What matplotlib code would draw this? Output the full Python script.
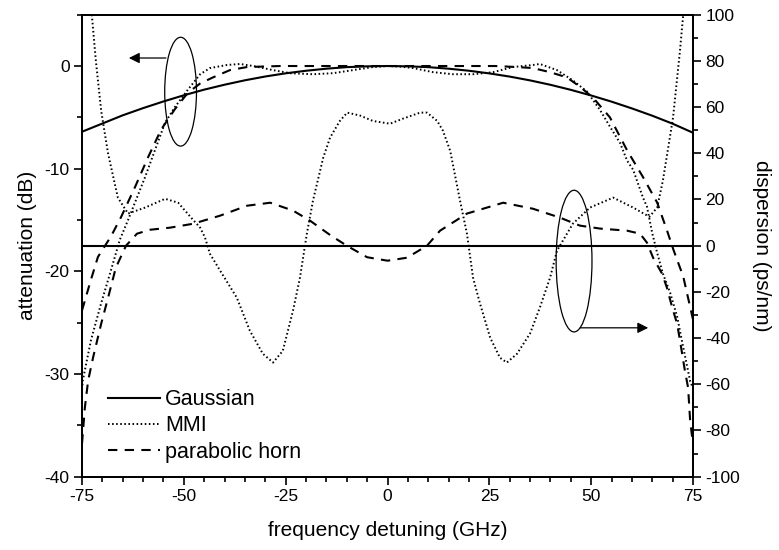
import numpy as np
import matplotlib
matplotlib.use("Agg")
import matplotlib.pyplot as plt
from matplotlib.patches import Ellipse
from matplotlib.ticker import MultipleLocator

plt.rcParams['font.family'] = ['Liberation Sans', 'DejaVu Sans']
plt.rcParams['axes.unicode_minus'] = False

# --- attenuation (dB), left axis ---
gauss_f = [-75, -70, -65, -60, -55, -50, -45, -40, -35, -30, -25, -20, -15, -10, -5,
           0, 5, 10, 15, 20, 25, 30, 35, 40, 45, 50, 55, 60, 65, 70, 75]
gauss_att = [-6.4, -5.6, -4.8, -4.1, -3.45, -2.85, -2.3, -1.82, -1.39, -1.02, -0.71, -0.46,
             -0.26, -0.11, -0.03, 0.0, -0.03, -0.11, -0.26, -0.46, -0.72, -1.03, -1.4,
             -1.83, -2.32, -2.87, -3.47, -4.13, -4.84, -5.62, -6.5]

mmi_att_f = [-75, -74.8, -72.8, -70.3, -67.9, -65.7, -63.7, -62, -59.5, -57.1, -54.6,
             -52.2, -49, -46, -43.6, -39.4, -36.2, -33, -28.1, -23.9, -18.3, -13.4, -8.5,
             -3.6, 0, 3, 6.3, 11.2, 16.1, 21, 25.9, 30.8, 35.7, 37.4, 41.6, 45.5, 49,
             52.2, 54.6, 57.1, 58.8, 60.3, 62.7, 63.7, 65, 66.2, 67.6, 69.4, 71.1, 72.6,
             74.3, 75]
mmi_att = [-31.5, -30.6, -26.7, -23.1, -19.9, -16.9, -15.0, -13.3, -10.8, -8.2, -5.5,
           -4.0, -2.3, -0.8, -0.2, 0.1, 0.2, 0.0, -0.4, -0.7, -0.8, -0.7, -0.4,
           -0.1, 0.0, -0.05, -0.2, -0.6, -0.8, -0.8, -0.6, -0.1, 0.1, 0.2, -0.4, -1.4, -2.5,
           -4.3, -5.9, -7.5, -9.2, -10.1, -12.8, -13.7, -16.3, -18.2, -20.2, -22.1, -24.4, -27.4,
           -30.7, -31.4]

horn_att_f = [-75, -72.8, -71.1, -67.9, -65.4, -62, -58.8, -55.6, -52.2, -49, -46, -42.8,
              -38.7, -34.5, -26.4, 0, 26.4, 31.8, 35.7, 39.9, 44, 47.2, 50.5, 54.6, 58.8,
              62.7, 66.2, 68.6, 70.2, 72.6, 75]
horn_att = [-23.8, -20.8, -18.6, -16.6, -14.7, -11.8, -8.9, -6.2, -4.2, -2.6, -1.7, -1.1,
            -0.4, -0.1, 0.0, 0.0, 0.0, -0.1, -0.2, -0.6, -1.1, -2.0, -3.1, -5.0, -8.2,
            -10.8, -13.3, -16.0, -17.9, -20.5, -24.7]

# --- dispersion (ps/nm), right axis ---
gauss_disp_f = [-75, 75]
gauss_disp = [0, 0]

mmi_disp_f = [-72.6, -71.6, -70.3, -68.6, -66.2, -63.7, -59.5, -54.6, -51.4, -48.2, -46,
              -44.8, -43.6, -41.1, -37, -33.8, -30.6, -28.1, -25.7, -23.2, -21.5, -19.8,
              -18.3, -15.8, -14.1, -11.7, -9.9, -6.7, -3.6, 0.6, 3.8, 8, 9.7, 12.2, 13.6,
              15.4, 17.8, 19.5, 21, 22.7, 25.2, 27.6, 29.3, 31.8, 35, 37.4, 39.9, 41.6,
              45.5, 49.7, 55.4, 60.3, 64.3, 66.2, 67.6, 70.1, 71.8, 72.6]
mmi_disp = [100, 80, 58.4, 39.8, 20.8, 13.9, 16.5, 20.3, 18.6, 12.1, 7.8,
            3.5, -3.5, -10.8, -22.5, -36.8, -46.8, -50.6, -45.5, -28.1, -13.9, 5.2,
            19.5, 38, 46.8, 54, 57.6, 56.3, 54, 52.8, 55, 57.6, 57.6, 54, 49.8,
            41, 19.5, 5.2, -13.9, -25, -39.8, -48.5, -50.6, -46.8, -38, -26.8, -13.9, -2.2,
            9.5, 16.5, 20.8, 16.5, 12.5, 16.5, 28.1, 55.4, 84.4, 100]

horn_disp_f = [-75, -74.3, -73.5, -72.3, -70.3, -68.6, -66.7, -64.2, -61.5, -58.3, -53.4,
               -47.7, -41.1, -34.5, -28.8, -23.2, -19, -14, -10, -5, 0, 4.8, 9.7, 12.9,
               19.5, 28.4, 35.7, 42.4, 47.2, 52.2, 58.8, 62, 63.7, 65.2, 67.4, 68.6, 69.9,
               71.1, 71.8, 73, 73.8, 74.3, 74.8]
horn_disp = [-85.7, -70, -58.4, -48.5, -33.8, -22.5, -9.5, 0, 5.2, 6.9, 7.8,
             9.5, 13, 17.3, 18.6, 15.2, 10.8, 4.5, 0, -5, -6.5, -5.2, 0, 6.5,
             13.9, 18.6, 16, 12.1, 8.7, 7.4, 6.5, 5.2, 1.3, -5.2, -12.1, -18.2, -26.8,
             -33.8, -41, -54, -61.5, -75.8, -83]

solid = dict(color='black', lw=1.5, linestyle='-')
dotted = dict(color='black', lw=1.4, linestyle=(0, (0.8, 1.3)))
dashed = dict(color='black', lw=1.5, linestyle=(0, (4.5, 3.5)))

fig = plt.figure(figsize=(7.79, 5.50), dpi=100)
ax = fig.add_axes([0.1053, 0.1333, 0.7843, 0.84])
ax2 = ax.twinx()

ax.plot(gauss_f, gauss_att, **solid, label='Gaussian')
ax.plot(mmi_att_f, mmi_att, **dotted, label='MMI')
ax.plot(horn_att_f, horn_att, **dashed, label='parabolic horn')

ax2.plot(gauss_disp_f, gauss_disp, **solid)
ax2.plot(mmi_disp_f, mmi_disp, **dotted)
ax2.plot(horn_disp_f, horn_disp, **dashed)

ax.set_xlim(-75, 75)
ax.set_ylim(-40, 5)
ax2.set_ylim(-100, 100)

ax.xaxis.set_major_locator(MultipleLocator(25))
ax.xaxis.set_minor_locator(MultipleLocator(5))
ax.yaxis.set_major_locator(MultipleLocator(10))
ax.yaxis.set_minor_locator(MultipleLocator(5))
ax2.yaxis.set_major_locator(MultipleLocator(20))
ax2.yaxis.set_minor_locator(MultipleLocator(10))

for a in (ax, ax2):
    a.tick_params(which='major', direction='out', length=6, width=1.2, labelsize=12.5, pad=3)
    a.tick_params(which='minor', direction='out', length=3.6, width=1.2)
    for s in a.spines.values():
        s.set_linewidth(1.3)
ax.tick_params(top=False, which='both')

ax.set_xlabel('frequency detuning (GHz)', fontsize=15, labelpad=12)
ax.set_ylabel('attenuation (dB)', fontsize=15, labelpad=5)
ax2.set_ylabel('dispersion (ps/nm)', fontsize=15, rotation=270, labelpad=22)

# ellipses grouping the curve families, with arrows pointing to their axis
ax.add_patch(Ellipse((-50.8, -2.5), 7.8, 10.6, fill=False, lw=0.9, color='black'))
ax.annotate('', xy=(-63.5, 0.78), xytext=(-54.4, 0.78),
            arrowprops=dict(arrowstyle='-|>', color='black', lw=0.9, mutation_scale=16,
                            shrinkA=0, shrinkB=0))
ax.add_patch(Ellipse((45.8, -19.0), 8.8, 13.8, fill=False, lw=0.9, color='black'))
ax.annotate('', xy=(64.0, -25.5), xytext=(47.3, -25.5),
            arrowprops=dict(arrowstyle='-|>', color='black', lw=0.9, mutation_scale=16,
                            shrinkA=0, shrinkB=0))

handles, labels = ax.get_legend_handles_labels()
ax2.legend(handles, labels, loc='lower left', bbox_to_anchor=(0.043, 0.03),
           frameon=False, fontsize=15.5, handlelength=2.4, handletextpad=0.25,
           labelspacing=0.25, borderpad=0, borderaxespad=0)

fig.savefig('out.png', dpi=100)
